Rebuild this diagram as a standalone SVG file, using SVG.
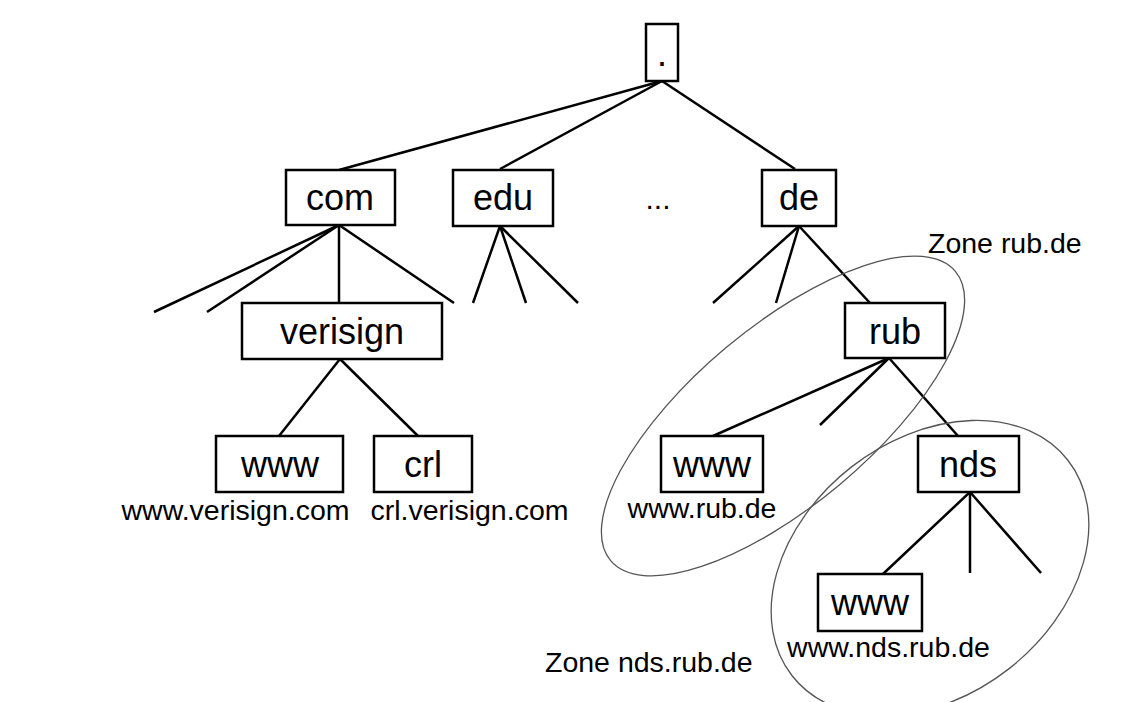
<svg xmlns="http://www.w3.org/2000/svg" width="1142" height="702" viewBox="0 0 1142 702">
<style>
.box{fill:#fff;stroke:#000;stroke-width:2.5}
.lbl{font-family:"Liberation Sans",Arial,sans-serif;font-size:36px;fill:#000;text-anchor:middle}
.cap{font-family:"Liberation Sans",Arial,sans-serif;font-size:28.5px;fill:#000}
.mid{text-anchor:middle}
.edge{stroke:#000;stroke-width:2.5;fill:none;stroke-linecap:butt}
.zone{fill:none;stroke:#555;stroke-width:1.3}
</style>
<rect width="1142" height="702" fill="#fff"/>
<g id="connectors">
<line class="edge" x1="662" y1="81" x2="339" y2="170"/>
<line class="edge" x1="662" y1="81" x2="500" y2="169"/>
<line class="edge" x1="662" y1="81" x2="795" y2="169"/>
<line class="edge" x1="339" y1="225" x2="154" y2="312"/>
<line class="edge" x1="339" y1="225" x2="207" y2="312"/>
<line class="edge" x1="339" y1="225" x2="339" y2="303"/>
<line class="edge" x1="339" y1="225" x2="454" y2="303"/>
<line class="edge" x1="500" y1="226" x2="473" y2="303"/>
<line class="edge" x1="500" y1="226" x2="526" y2="303"/>
<line class="edge" x1="500" y1="226" x2="578" y2="303"/>
<line class="edge" x1="799" y1="226" x2="713" y2="303"/>
<line class="edge" x1="799" y1="226" x2="776" y2="303"/>
<line class="edge" x1="799" y1="226" x2="870" y2="303"/>
<line class="edge" x1="340" y1="359" x2="279" y2="436"/>
<line class="edge" x1="340" y1="359" x2="418" y2="436"/>
<line class="edge" x1="889" y1="358" x2="713" y2="436"/>
<line class="edge" x1="889" y1="358" x2="820" y2="425"/>
<line class="edge" x1="889" y1="358" x2="958" y2="436"/>
<line class="edge" x1="970" y1="492" x2="883" y2="574"/>
<line class="edge" x1="970" y1="492" x2="970" y2="573"/>
<line class="edge" x1="970" y1="492" x2="1041" y2="573"/>
</g>
<g id="zone-rub">
<ellipse class="zone" cx="783" cy="416" rx="225" ry="89" transform="rotate(-40 783 416)"/>
<text class="cap" x="928" y="253">Zone rub.de</text>
</g>
<g id="zone-nds">
<ellipse class="zone" cx="930" cy="568" rx="175" ry="128" transform="rotate(-38 930 568)"/>
<text class="cap" x="545" y="672">Zone nds.rub.de</text>
</g>
<g id="root"><rect class="box" x="646" y="24" width="32" height="57"/><text class="lbl" x="662" y="66">.</text></g>
<g id="com"><rect class="box" x="286" y="170" width="109" height="55"/><text class="lbl" x="340" y="210">com</text></g>
<g id="edu"><rect class="box" x="453" y="170" width="100" height="56"/><text class="lbl" x="503" y="210">edu</text></g>
<g id="ellipsis"><text class="lbl" x="658" y="209" style="font-size:30px">...</text></g>
<g id="de"><rect class="box" x="762" y="170" width="74" height="56"/><text class="lbl" x="799" y="210">de</text></g>
<g id="verisign"><rect class="box" x="242" y="303" width="200" height="56"/><text class="lbl" x="342" y="344">verisign</text></g>
<g id="www-verisign"><rect class="box" x="216" y="436" width="127" height="56"/><text class="lbl" x="280" y="477">www</text><text class="cap mid" x="235.5" y="520">www.verisign.com</text></g>
<g id="crl-verisign"><rect class="box" x="374" y="436" width="98" height="56"/><text class="lbl" x="423" y="477">crl</text><text class="cap mid" x="469.5" y="520">crl.verisign.com</text></g>
<g id="rub"><rect class="box" x="845" y="303" width="100" height="55"/><text class="lbl" x="895" y="344">rub</text></g>
<g id="www-rub"><rect class="box" x="661" y="436" width="102" height="56"/><text class="lbl" x="712" y="477">www</text><text class="cap mid" x="702" y="518">www.rub.de</text></g>
<g id="nds"><rect class="box" x="918" y="436" width="101" height="56"/><text class="lbl" x="968" y="477">nds</text></g>
<g id="www-nds"><rect class="box" x="818" y="574" width="104" height="57"/><text class="lbl" x="870" y="615">www</text><text class="cap mid" x="888.5" y="657">www.nds.rub.de</text></g>
</svg>
